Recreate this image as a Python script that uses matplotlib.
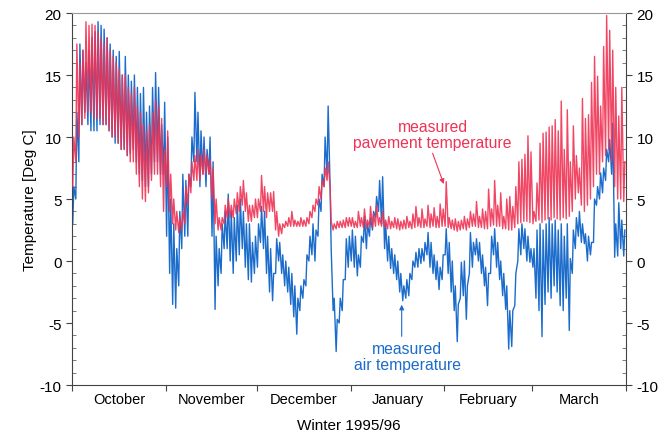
import numpy as np
import matplotlib
matplotlib.use("Agg")
import matplotlib.pyplot as plt
from matplotlib.ticker import MultipleLocator, FixedLocator

plt.rcParams['font.family'] = ['Liberation Sans', 'DejaVu Sans']
plt.rcParams['axes.unicode_minus'] = False

# days since 1 Oct 1995, two readings per day (night / afternoon)
months = ['October', 'November', 'December', 'January', 'February', 'March']
month_len = [31, 30, 31, 31, 29, 31]

# air temperature [deg C]
air_night = [3, 5, 8, 11, 12, 11, 10.5, 10.5, 10.5, 11, 11, 11, 10.5, 10, 9.5, 9.5, 9, 9, 8.5, 8.7,
             9, 8, 7, 6.5, 6, 6, 7, 8, 8, 7, 7,
             2, -1, -3.5, -3.8, -2, 1, 2, 2, 6, 8, 8, 6, 7, 6, 7, 2, -3.9, -2, -1, 1,
             1, 0, -1, 0, 0.5, 1, -0.5, -1.5, -1.7, -1,
             -0.5, 1.5, 1, -1, -2.5, -3.2, -1, 0, -1, -2, -2.5, -3.5, -4.5, -5.9, -4, -3, -2, 0, 0.5, 0,
             2, 4, 6, 7, 6, -4, -7.3, -5, -4, -1.5, -0.5,
             0, -0.5, -1.2, -0.5, 1.5, 1, 2, 2.5, 3.5, 4, 3, 1, 0, -0.6, -1, -1.5, -2.5, -3.2, -3, -2.8,
             -1.5, -0.5, -0.5, -0.2, 0, 0.5, -0.5, -1, -1.5, -2.3, -1.5,
             0.5, -1, -2.5, -4, -6.5, -3, -2.8, -4.7, -1, -0.5, 0.5, 0, -1, -2, -3.6, -1, 0.5, -0.5, -1.5, -2.8,
             -3.9, -7.1, -6.9, -3.6, 0, 0.5, 1, 0, -0.1,
             -0.5, -3, -4, -6.1, -3.5, -2.5, -3, -2, -2.5, -3.6, -4, -3, -5.6, -1, 1, 2, 1.5, 1.4, 0, 0.5,
             1.5, 4.5, 5, 5.5, 6.5, 8, 7, 0.3, 0.4, 1, 0.4]
air_day = [6, 12, 17.5, 17, 16, 17, 18, 18.5, 19.3, 19, 18.7, 18, 17.5, 17, 16.5, 16.9, 15, 16.5, 15, 14.5,
           15, 14, 13.5, 14, 12, 12.5, 14, 15.2, 14, 11, 12.8,
           10, 5, 3, 1, 4, 7, 6.5, 7, 10, 13.6, 12, 10.5, 10, 9, 10, 8, 2, 1, 3, 4,
           5.4, 4, 3.5, 4.5, 5, 4, 3, 3, 1.5, 2,
           3, 4.4, 4, 2, 1, -1, 1.8, 1.5, 0.5, 0, -0.5, -1, -2, -3, -2, -1.5, 0.5, 2, 3, 2.5,
           5, 7, 10, 12.5, 1, -3, -4.7, -3, -1.5, 1.8, 2,
           2.5, 2, 0.5, 2, 3.6, 3, 3.5, 4, 5.2, 6.5, 6.8, 3, 2, 1, 0.5, 0, -1, -2, -1.5, -1,
           0, 0.7, 1, 1, 1.5, 2.3, 1.5, 0.5, 0, -0.5, 0.5,
           2.6, 1.5, 0, -2, -3.5, -0.1, 0, -2, 2.3, 1.5, 1.8, 1.5, 0.5, -0.5, -1, 2, 2.6, 1.5, 0, -1,
           -2, -4, -4, -1, 2.6, 3, 2.6, 2, 1,
           1, 2.5, 3, 2.5, 3, 3.5, 3, 3.3, 2.5, 3, 2, 3, 0.2, 2.5, 3.5, 4, 3, 2.2, 2, 1.5,
           5, 6, 7.1, 7.5, 9, 9.8, 11.1, 3, 4.7, 3.3, 2.5]

# pavement temperature [deg C]
pave_night = [6, 8, 10, 11, 11.5, 12, 12, 11.5, 11.5, 11.5, 11, 11, 10.5, 10, 10, 9.5, 9, 9, 8.5, 8,
              8, 7, 6, 5, 4.8, 5.5, 6.5, 7, 7, 6, 4,
              6, 4, 3, 2.5, 2.3, 2.5, 3, 4.5, 5.5, 6.5, 6.5, 6.5, 7, 7, 7, 5, 3, 2.5, 2.5, 3,
              3.5, 3.5, 3.5, 3.8, 4, 4.5, 4, 3.2, 3.2, 3.5,
              3.5, 4, 4, 3.5, 4, 4, 2.5, 2, 2.2, 2.7, 2.8, 2.8, 2.8, 2.8, 2.8, 2.8, 2.8, 3, 3.5, 4,
              4.5, 5, 6, 6.5, 6, 2.5, 2.6, 2.7, 2.7, 2.7, 2.8,
              2.8, 2.7, 2.7, 2.8, 2.7, 2.6, 2.8, 2.7, 2.8, 2.9, 2.8, 2.7, 2.6, 2.6, 2.7, 2.6, 2.5, 2.6, 2.6, 2.7,
              2.6, 2.7, 2.8, 2.7, 2.7, 2.8, 2.7, 2.8, 2.7, 2.7, 2.8,
              2.8, 2.7, 2.6, 2.5, 2.4, 2.5, 2.6, 2.5, 2.7, 2.8, 2.8, 2.7, 2.7, 2.6, 2.6, 2.8, 2.9, 2.8, 2.8, 2.6,
              2.6, 2.5, 2.5, 2.7, 3, 3.1, 3.2, 3.2, 3.1,
              3, 3.2, 3.3, 3.1, 3.3, 3.4, 3.3, 3.5, 3.4, 3.3, 3.5, 3.4, 3.6, 4, 5, 5.5, 4.5, 4, 4.5, 5,
              6, 7, 7, 8, 8.5, 9, 8, 6, 5, 5, 4.8]
pave_day = [10, 17.5, 16, 17, 19.3, 19, 19.1, 19, 18.5, 18, 17.5, 18, 17, 16.5, 16, 15.5, 15, 15, 14, 13.5,
            14, 12.5, 12, 11, 10.5, 11, 12, 13, 12.5, 11.5, 9,
            10.5, 7, 5, 4, 3.5, 4, 6, 7, 8, 8.5, 9, 8.5, 9, 8.5, 8.2, 7.5, 5, 3.5, 3.5, 4.5,
            5, 4.5, 5, 5.5, 6, 6.5, 5.5, 4.5, 4.5, 5,
            5, 6.9, 6, 5.5, 5.5, 5.6, 4, 3, 3, 3.2, 3.5, 4, 3.3, 3.2, 3.5, 3.3, 3.5, 4, 4.5, 5,
            6, 6.5, 7.5, 8, 3.2, 3, 3.2, 3.2, 3.3, 3.5, 3.5,
            3.5, 3.2, 4, 3.5, 4.2, 3.3, 4.4, 3.8, 4.5, 3.5, 4, 3.3, 3.6, 3.2, 3.5, 3.4, 3.2, 3.3, 3.6, 3.2,
            3.8, 4.4, 3.5, 4.2, 3.4, 4.5, 3.8, 4.3, 3.6, 4.6, 4.2,
            6.4, 3.5, 3.3, 3.4, 3.2, 3.3, 3.6, 3.4, 4, 3.8, 4.8, 3.6, 4.2, 4, 5.8, 4.2, 6.5, 4.5, 5.5, 3.6,
            5, 5.2, 4.4, 6, 8, 8.2, 8.6, 10.1, 8.8,
            4, 6.3, 9.5, 10.3, 10.4, 10.8, 10.9, 11.4, 10.5, 12.9, 9, 12.2, 8, 10.9, 8.5, 7.5, 13.1, 11.5, 11.8, 14.4,
            16.5, 14.9, 12.5, 17.3, 19.8, 18.6, 17, 14, 11.7, 14, 8]

n_days = sum(month_len)
days = np.arange(n_days)
t = np.column_stack([days + 0.25, days + 0.6]).ravel()
air = np.column_stack([air_night, air_day]).ravel()
pave = np.column_stack([pave_night, pave_day]).ravel()

fig = plt.figure(figsize=(6.65, 4.35), dpi=100)
ax = fig.add_axes([0.1083, 0.1126, 0.8331, 0.8552])

blue = '#1b6ccb'
red = '#ef3354'
ax.plot(t, air, color=blue, lw=1.0, zorder=2)
ax.plot(t, pave, color=red, lw=1.0, alpha=0.9, zorder=3)

ax.set_xlim(0, n_days)
ax.set_ylim(-10, 20)

bounds = np.concatenate([[0], np.cumsum(month_len)])
mids = (bounds[:-1] + bounds[1:]) / 2
ax.xaxis.set_major_locator(FixedLocator(bounds))
ax.xaxis.set_minor_locator(FixedLocator(mids))
ax.set_xticklabels([''] * len(bounds))
ax.set_xticklabels(months, minor=True, fontsize=10.5)
ax.tick_params(axis='x', which='major', direction='out', length=4, color='#444444')
ax.tick_params(axis='x', which='minor', length=0, pad=5)

ax.yaxis.set_major_locator(MultipleLocator(5))
ax.yaxis.set_minor_locator(MultipleLocator(1))
ax.tick_params(axis='y', which='major', direction='out', length=4, labelsize=11,
               left=True, right=True, labelleft=True, labelright=True, color='#444444')
ax.tick_params(axis='y', which='minor', direction='in', length=3,
               left=True, right=True, color='#666666')

ax.spines['top'].set_color('#999999')
for s in ['left', 'right', 'bottom']:
    ax.spines[s].set_color('#444444')

ax.set_ylabel('Temperature [Deg C]', fontsize=11, labelpad=2)
ax.set_xlabel('Winter 1995/96', fontsize=11, labelpad=9)

ax.text(119.1, 10.2, 'measured\npavement temperature', color=red, fontsize=11.3,
        ha='center', va='center', linespacing=1.05)
ax.annotate('', xy=(123.1, 6.0), xytext=(118.8, 8.9),
            arrowprops=dict(arrowstyle='-|>', color=red, lw=0.8, mutation_scale=7))
ax.text(110.7, -7.7, 'measured\nair temperature', color=blue, fontsize=11.3,
        ha='center', va='center', linespacing=1.05)
ax.annotate('', xy=(108.9, -3.3), xytext=(108.9, -6.3),
            arrowprops=dict(arrowstyle='-|>', color=blue, lw=0.8, mutation_scale=7))

fig.savefig('out.png', dpi=100)
